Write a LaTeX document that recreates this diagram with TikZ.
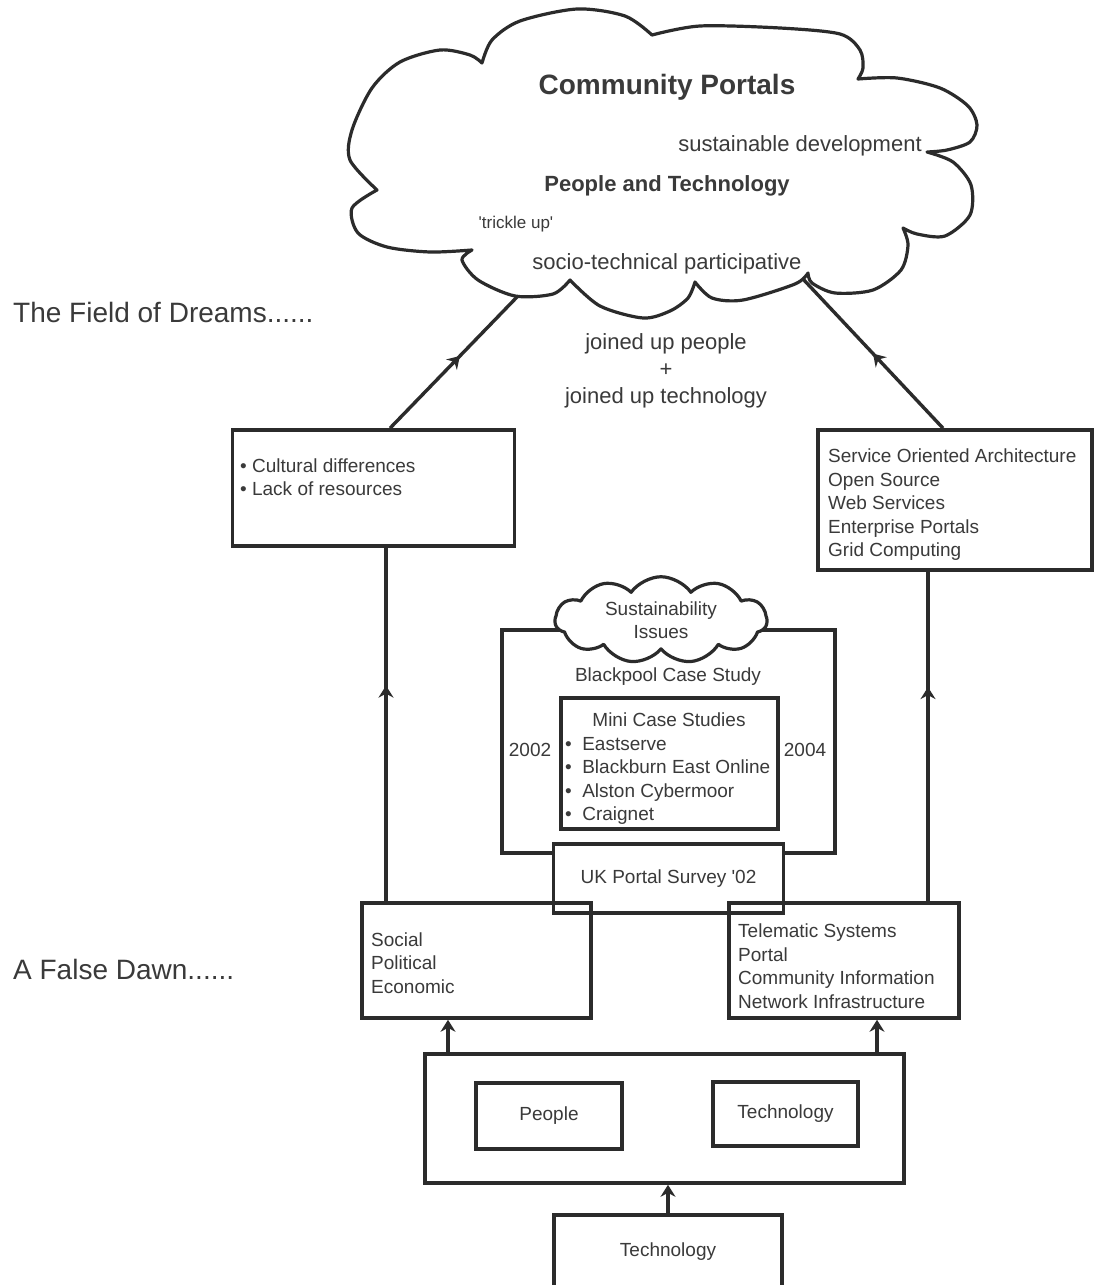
\documentclass[tikz,border=0pt]{standalone}
\usepackage{fontspec}
\setmainfont{Liberation Sans}
\usetikzlibrary{arrows.meta,decorations.markings,shapes.symbols}
\definecolor{ink}{HTML}{2B2B2B}
\definecolor{txtgray}{HTML}{3A3A3A}

\begin{document}
\begin{tikzpicture}[
  x=1pt, y=-1pt,
  box/.style={rectangle, draw=ink, line width=3.6pt, inner sep=0pt},
  body/.style={text=txtgray, inner sep=0pt, align=left,
    font=\fontsize{19}{23.5}\selectfont},
  big/.style={text=txtgray, inner sep=0pt, align=center,
    font=\fontsize{22}{27}\selectfont},
  heading/.style={text=txtgray, inner sep=0pt, anchor=west,
    font=\fontsize{28}{34}\selectfont},
  conn/.style={draw=ink, color=ink, line width=3.4pt},
  uparrow/.style={conn, -{Stealth[length=12pt,width=15pt,inset=4pt]}},
  midarrow/.style={conn, postaction={decorate},
    decoration={markings, mark=at position #1 with
      {\arrow{Stealth[length=12pt,width=15pt,inset=4pt]}}}},
  midarrow/.default=0.5,
  cloudline/.style={draw=ink, line width=3.2pt, fill=white, line join=round},
]

\useasboundingbox[fill=white] (0,0) rectangle (1101,1285);

%% Big cloud
\draw[cloudline]
  plot[smooth] coordinates {(377,190) (350,160) (352,130) (372,88) (400,62) (440,50) (470,55) (482,63)}
  -- plot[smooth] coordinates {(482,63) (492,40) (520,21) (577,9) (625,16) (652,35)}
  -- plot[smooth] coordinates {(652,35) (700,26) (780,28) (840,34) (860,50) (863,68) (858,79)}
  -- plot[smooth] coordinates {(858,79) (897,78) (940,88) (968,106) (977,125) (970,142) (947,150) (927,152)}
  -- plot[smooth] coordinates {(927,152) (953,162) (971,185) (970,215) (945,236) (917,234) (903,228)}
  -- plot[smooth] coordinates {(903,228) (908,245) (901,270) (873,290) (835,293) (812,283) (808,273)}
  -- plot[smooth] coordinates {(808,273) (795,284) (743,300) (712,298) (695,282)}
  -- plot[smooth] coordinates {(695,282) (688,298) (670,311) (643,318) (600,306) (570,280)}
  -- plot[smooth] coordinates {(570,280) (553,294) (515,296) (478,280) (462,260) (472,250)}
  -- plot[smooth] coordinates {(472,250) (430,252) (387,247) (358,233) (352,208) (377,190)}
  -- cycle;
\coordinate (cl) at (517,297);
\coordinate (cr) at (803,279);

\node[text=txtgray, inner sep=0pt, font=\fontsize{28}{34}\selectfont\bfseries] (cp) at (667,87) {Community Portals};
\node[big] (sd) at (800,146) {sustainable development};
\node[big, font=\fontsize{22}{27}\selectfont\bfseries] (pt) at (667,186) {People and Technology};
\node[body, font=\fontsize{17}{20}\selectfont] (tu) at (516,224) {\textquotesingle trickle up\textquotesingle};
\node[big] (stp) at (667,264) {socio-technical participative};

%% Side headings
\node[heading] (dreams) at (13,312) {The Field of Dreams......};
\node[heading] (dawn) at (13,969) {A False Dawn......};

\node[big] (joined) at (666,371) {joined up people\\+\\joined up technology};

%% Upper boxes
\node[box, minimum width=282pt, minimum height=116pt] (cult) at (373.5,488) {};
\node[body, anchor=west] (culttxt) at (240,477)
  {\textbullet\ Cultural differences\\\textbullet\ Lack of resources};
\node[box, minimum width=274pt, minimum height=140pt] (tools) at (955,500) {};
\node[body, anchor=west] (toolstxt) at (828,505)
  {Service Oriented Architecture\\Open Source\\Web Services\\Enterprise Portals\\Grid Computing};

%% Case study block
\node[box, minimum width=333pt, minimum height=223pt] (bp) at (668.5,741.5) {};
\node[cloudline, cloud, cloud puffs=11, cloud puff arc=110, aspect=2.4,
  minimum width=212pt, minimum height=86pt, inner sep=0pt, align=center,
  text=txtgray, font=\fontsize{19}{23.5}\selectfont] (sust) at (661,620)
  {Sustainability\\Issues};
\node[body] (bptxt) at (668,677) {Blackpool Case Study};
\node[box, minimum width=217pt, minimum height=131pt] (mini) at (669.5,763.5) {};
\node[body] (minititle) at (669,720) {Mini Case Studies};
\node[body, anchor=west] (minilist) at (565,781)
  {\textbullet\hspace{0.55em}Eastserve\\\textbullet\hspace{0.55em}Blackburn East Online\\\textbullet\hspace{0.55em}Alston Cybermoor\\\textbullet\hspace{0.55em}Craignet};
\node[body] (y02) at (530,750) {2002};
\node[body] (y04) at (805,750) {2004};
\node[box, fill=white, minimum width=230pt, minimum height=69pt, body] (uk) at (668.5,878.5) {UK Portal Survey \textquotesingle 02};

%% Lower boxes
\node[box, minimum width=229pt, minimum height=115pt] (soc) at (476.5,960.5) {};
\node[body, anchor=west] (soctxt) at (371,963) {Social\\Political\\Economic};
\node[box, minimum width=230pt, minimum height=115pt] (tele) at (844,960.5) {};
\node[body, anchor=west] (teletxt) at (738,966)
  {Telematic Systems\\Portal\\Community Information\\Network Infrastructure};

\node[box, minimum width=479pt, minimum height=129pt] (base) at (664.5,1118.5) {};
\node[box, body, minimum width=146pt, minimum height=66pt] (people) at (549,1116) {People};
\node[box, body, minimum width=145pt, minimum height=64pt] (techin) at (785.5,1114) {Technology};
\node[box, body, minimum width=228pt, minimum height=74pt] (techb) at (668,1252) {Technology};

%% Connectors
\coordinate (lt) at ([xshift=16.5pt]cult.north);
\coordinate (rt) at ([xshift=-12pt]tools.north);
\draw[midarrow=0.55] (lt) -- (cl);
\draw[midarrow=0.5] (rt) -- (cr);

\coordinate (lv) at ([xshift=-90.5pt]soc.north);
\coordinate (rv) at ([xshift=84pt]tele.north);
\draw[midarrow=0.61] (lv) -- (lv |- cult.south);
\draw[midarrow=0.65] (rv) -- (rv |- tools.south);

\coordinate (la) at ([xshift=-216.5pt]base.north);
\coordinate (ra) at ([xshift=212.5pt]base.north);
\draw[uparrow] (la) -- (la |- soc.south);
\draw[uparrow] (ra) -- (ra |- tele.south);
\draw[uparrow] (techb.north) -- (techb.north |- base.south);

\end{tikzpicture}
\end{document}
